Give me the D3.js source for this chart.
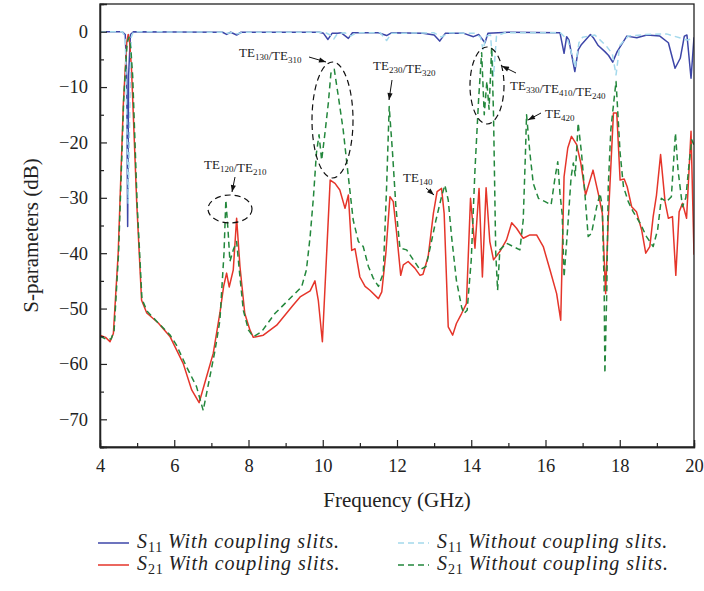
<!DOCTYPE html>
<html>
<head>
<meta charset="utf-8">
<script src="https://cdn.jsdelivr.net/npm/d3@7"></script>
<style>
  html, body { margin: 0; padding: 0; background: #fff; }
  svg text { font-family: "Liberation Serif", "DejaVu Serif", serif; fill: #222; }
</style>
</head>
<body>
<svg id="chart" width="704" height="591"></svg>
<script>
// Frequency sweep data (GHz, dB)
const s11WithFreq = [4.0, 4.6, 4.68, 4.72, 4.745, 4.77, 4.82, 4.9, 7.3, 7.41, 7.52, 7.68, 7.8, 9.9, 10.02, 10.14, 10.25, 10.4, 10.5, 10.69, 10.8, 11.5, 11.72, 11.85, 12.7, 13.0, 13.15, 13.3, 13.8, 14.06, 14.2, 14.37, 14.45, 15.0, 16.39, 16.5, 16.57, 16.63, 16.79, 16.88, 16.97, 17.21, 17.3, 17.42, 17.6, 17.7, 17.81, 17.93, 18.19, 18.46, 18.73, 19.08, 19.31, 19.49, 19.63, 19.74, 19.81, 19.92, 20.0];
const s11WithDb = [0, 0, -0.5, -8, -35.2, -8, -0.5, 0, -0.1, -0.5, -0.1, -0.6, -0.1, -0.1, -0.3, -1.4, -0.3, -0.3, -0.2, -1.2, -0.2, -0.2, -0.7, -0.2, -0.3, -0.6, -1.7, -0.3, -0.3, -0.9, -0.5, -2.0, -0.3, -0.1, -0.2, -3.9, -0.9, -1.5, -7.2, -3.3, -2.3, -0.5, -1.2, -2.5, -3.6, -4.3, -5.5, -3.6, -0.8, -1.1, -0.6, -0.8, -2.0, -6.6, -4.8, -0.8, -0.6, -8.4, -1.0];

const s21WithFreq = [4.0, 4.15, 4.27, 4.36, 4.49, 4.63, 4.72, 4.76, 4.8, 4.85, 4.99, 5.12, 5.26, 5.57, 5.89, 6.24, 6.47, 6.67, 6.87, 7.05, 7.23, 7.33, 7.41, 7.48, 7.59, 7.68, 7.77, 7.9, 8.04, 8.13, 8.4, 8.76, 9.2, 9.39, 9.66, 9.79, 9.88, 9.99, 10.2, 10.33, 10.46, 10.6, 10.69, 10.78, 10.87, 11.0, 11.14, 11.27, 11.5, 11.59, 11.7, 11.81, 11.9, 11.99, 12.1, 12.17, 12.3, 12.48, 12.62, 12.7, 12.84, 12.98, 13.08, 13.2, 13.27, 13.38, 13.5, 13.6, 13.74, 13.87, 13.98, 14.1, 14.21, 14.3, 14.4, 14.5, 14.6, 14.77, 14.95, 15.09, 15.22, 15.4, 15.58, 15.76, 15.94, 16.12, 16.3, 16.41, 16.5, 16.6, 16.7, 16.84, 16.95, 17.08, 17.28, 17.44, 17.53, 17.62, 17.69, 17.83, 17.92, 18.01, 18.12, 18.2, 18.32, 18.45, 18.59, 18.7, 18.81, 18.9, 18.99, 19.1, 19.22, 19.31, 19.42, 19.51, 19.6, 19.69, 19.8, 19.92, 20.0];
const s21WithDb = [-54.8, -55.2, -56, -54.5, -40, -12.9, -2, -0.5, -2, -6.9, -31, -48.5, -50.8, -52.6, -55.1, -59.9, -64.7, -67, -62.3, -58.1, -50.8, -46, -43.6, -46.1, -43, -33.7, -42.4, -50.9, -53.9, -55.2, -54.8, -53, -49.4, -47.9, -46.8, -45, -48.5, -56, -26.8, -27.4, -28.6, -31.9, -29.5, -39.5, -39.2, -44.3, -46, -46.7, -48.2, -47, -40, -29.8, -30.7, -36.4, -44, -42.1, -41.5, -42.7, -44, -43.8, -40.6, -32.8, -28.9, -28.3, -32.8, -53.3, -54.8, -52.7, -50.9, -49.1, -30.1, -39.1, -28.3, -44.3, -28.2, -37.9, -41.2, -39.7, -37.6, -34.5, -35.5, -37.3, -36.7, -36.7, -38.8, -43, -47.3, -52.1, -26.2, -21, -18.9, -20.4, -23.7, -29.5, -25, -29.8, -32.8, -47.3, -34, -14.7, -14.7, -26.8, -26.6, -28, -31.6, -32.5, -35.8, -40, -38.8, -33.4, -29.5, -22.2, -30.7, -33.7, -33.4, -44, -32.5, -31, -33.7, -18, -40.3];

const s11WithoutFreq = [4.0, 4.6, 4.68, 4.72, 4.76, 4.8, 4.84, 4.9, 7.3, 7.45, 7.58, 7.7, 7.85, 10.05, 10.2, 10.3, 10.4, 10.6, 10.75, 10.9, 11.55, 11.72, 11.85, 13.0, 13.2, 13.4, 14.1, 14.25, 14.32, 14.4, 14.52, 14.6, 14.68, 14.9, 16.4, 16.6, 16.75, 16.8, 16.9, 17.0, 17.33, 17.64, 17.8, 17.9, 18.0, 18.23, 18.7, 19.26, 19.81, 20.0];
const s11WithoutDb = [0, 0, -1, -15, -31, -15, -1, 0, -0.1, -0.3, -0.1, -0.4, -0.1, -0.1, -0.6, -1.3, -0.3, -0.2, -0.8, -0.2, -0.2, -1.6, -0.3, -0.2, -1.0, -0.2, -0.3, -1.0, -3.3, -0.8, -0.6, -8, -0.8, -0.2, -0.2, -1.5, -5, -6.5, -2, -1, -0.6, -2.6, -4, -7.8, -2.5, -0.8, -0.5, -0.4, -1.5, -1.2];

const s21WithoutFreq = [4.0, 4.15, 4.3, 4.38, 4.5, 4.64, 4.73, 4.78, 4.83, 4.88, 5.0, 5.13, 5.27, 5.57, 5.89, 6.06, 6.33, 6.6, 6.78, 6.96, 7.1, 7.23, 7.34, 7.39, 7.45, 7.5, 7.59, 7.68, 7.77, 7.86, 8.0, 8.13, 8.35, 8.71, 9.07, 9.43, 9.56, 9.66, 9.75, 9.83, 9.9, 9.97, 10.06, 10.15, 10.22, 10.31, 10.42, 10.55, 10.64, 10.78, 10.82, 10.96, 11.09, 11.23, 11.36, 11.5, 11.63, 11.72, 11.79, 11.88, 11.97, 12.08, 12.26, 12.44, 12.62, 12.78, 12.9, 13.05, 13.2, 13.29, 13.38, 13.47, 13.6, 13.74, 13.8, 13.89, 14.0, 14.1, 14.2, 14.28, 14.35, 14.42, 14.48, 14.55, 14.6, 14.66, 14.71, 14.77, 14.95, 15.13, 15.31, 15.4, 15.46, 15.49, 15.58, 15.67, 15.81, 15.99, 16.15, 16.26, 16.33, 16.39, 16.45, 16.5, 16.6, 16.69, 16.75, 16.8, 16.88, 16.97, 17.06, 17.15, 17.24, 17.38, 17.47, 17.53, 17.58, 17.6, 17.65, 17.69, 17.76, 17.85, 17.9, 18.01, 18.1, 18.23, 18.36, 18.55, 18.72, 18.9, 19.02, 19.12, 19.26, 19.39, 19.5, 19.57, 19.69, 19.78, 19.87, 19.94, 20.0];
const s21WithoutDb = [-55, -55.5, -55.5, -54, -40, -12, -2, -1, -3, -8, -31, -48.3, -50.5, -52.6, -54.8, -56.6, -60.5, -64.1, -68.4, -62.3, -57.5, -52.1, -40, -30.4, -36, -41.5, -39.4, -37.9, -44.3, -50.3, -53.9, -55.1, -54.2, -50.9, -48.5, -46.1, -43, -37, -29.8, -21.9, -18.6, -23.2, -18.3, -12.9, -7.5, -6.8, -11.7, -17.7, -23.2, -31.6, -34, -37.9, -38.8, -42.4, -44.5, -46, -43.6, -28, -13.5, -21.9, -31.6, -39.1, -39.4, -41.2, -43, -42.4, -38.8, -34, -29.8, -27.7, -30.4, -37, -44.9, -49.7, -50.9, -50.3, -41.2, -25, -12, -3.8, -15, -9, -14, -2.8, -15, -40, -46.7, -39.4, -38.2, -38.8, -39.4, -34, -21.9, -15, -21.9, -27.4, -30.1, -30.7, -31.3, -26.2, -23.5, -29.2, -33, -44.3, -35.2, -26.2, -23.7, -26, -16.5, -21.9, -29.2, -37, -36.4, -31.6, -29.2, -31.6, -46, -61.7, -47, -28, -17.7, -12, -9, -21.9, -28, -30.7, -32.5, -34.6, -37, -38.8, -35.8, -30.1, -30.7, -29.8, -18.3, -25, -31.6, -30, -23.7, -19.5, -20.5];

const xTicks = [4, 6, 8, 10, 12, 14, 16, 18, 20];
const yTicks = [-70, -60, -50, -40, -30, -20, -10, 0];

const SERIF = "'Liberation Serif', 'DejaVu Serif', serif";
const svg = d3.select("#chart");
const plot = { left: 100, right: 694, top: 4, bottom: 447 };

const x = d3.scaleLinear().domain([4, 20]).range([plot.left, plot.right]);
const y = d3.scaleLinear().domain([-75, 5]).range([plot.bottom, plot.top]);

svg.append("defs").append("clipPath").attr("id", "plotClip")
  .append("rect")
  .attr("x", plot.left).attr("y", plot.top)
  .attr("width", plot.right - plot.left).attr("height", plot.bottom - plot.top);

const zip = (fs, vs) => fs.map((f, i) => [f, vs[i]]);
const line = d3.line().x(d => x(d[0])).y(d => y(d[1]));

const series = [
  { data: zip(s11WithFreq, s11WithDb), color: "#3d46a8", dash: null },
  { data: zip(s21WithFreq, s21WithDb), color: "#e5352a", dash: null },
  { data: zip(s11WithoutFreq, s11WithoutDb), color: "#a4d9ec", dash: "6,4" },
  { data: zip(s21WithoutFreq, s21WithoutDb), color: "#23873c", dash: "6,4" }
];

const lines = svg.append("g").attr("clip-path", "url(#plotClip)");
series.forEach(s => {
  lines.append("path")
    .datum(s.data)
    .attr("d", line)
    .attr("fill", "none")
    .attr("stroke", s.color)
    .attr("stroke-width", 1.5)
    .attr("stroke-linejoin", "round")
    .attr("stroke-dasharray", s.dash);
});

// Frame
svg.append("rect")
  .attr("x", plot.left).attr("y", plot.top)
  .attr("width", plot.right - plot.left).attr("height", plot.bottom - plot.top)
  .attr("fill", "none").attr("stroke", "#222").attr("stroke-width", 1.3);

// Axes with inward ticks
const xAxis = d3.axisBottom(x).tickValues(xTicks).tickSize(-7).tickPadding(12).tickFormat(d3.format("d"));
svg.append("g").attr("transform", `translate(0,${plot.bottom})`).call(xAxis);
const xMinor = d3.axisBottom(x).tickValues(d3.range(5, 20, 2)).tickSize(-4).tickFormat("");
svg.append("g").attr("transform", `translate(0,${plot.bottom})`).call(xMinor);

const fmtY = d => d < 0 ? "\u2212" + Math.abs(d) : String(d);
const yAxis = d3.axisLeft(y).tickValues(yTicks).tickSize(-7).tickPadding(12).tickFormat(fmtY);
svg.append("g").attr("transform", `translate(${plot.left},0)`).call(yAxis);
const yMinor = d3.axisLeft(y).tickValues(d3.range(-75, 5, 10)).tickSize(-4).tickFormat("");
svg.append("g").attr("transform", `translate(${plot.left},0)`).call(yMinor);

svg.selectAll(".domain").attr("stroke", "#222").attr("stroke-width", 1.3);
svg.selectAll(".tick line").attr("stroke", "#222").attr("stroke-width", 1.2);
svg.selectAll(".tick text").attr("font-size", 18.5).attr("fill", "#222")
  .attr("font-family", SERIF).style("font-family", SERIF);

// Axis titles
svg.append("text")
  .attr("x", (plot.left + plot.right) / 2).attr("y", 507)
  .attr("text-anchor", "middle").attr("font-size", 21).attr("font-family", SERIF)
  .text("Frequency (GHz)");
svg.append("text")
  .attr("transform", `translate(38,${(plot.top + plot.bottom) / 2 + 10}) rotate(-90)`)
  .attr("text-anchor", "middle").attr("font-size", 21).attr("font-family", SERIF)
  .text("S-parameters (dB)");

// Mode annotations
function modeLabel(xp, yp, parts) {
  const t = svg.append("text").attr("x", xp).attr("y", yp)
    .attr("font-size", 13).attr("font-family", SERIF);
  parts.forEach(p => {
    if (p.sub) {
      t.append("tspan").attr("font-size", 9).attr("dy", 3).text(p.sub);
      t.append("tspan").attr("dy", -3).text("");
    } else {
      t.append("tspan").text(p.t);
    }
  });
}
function arrow(x1, y1, x2, y2) {
  svg.append("line").attr("x1", x1).attr("y1", y1).attr("x2", x2).attr("y2", y2)
    .attr("stroke", "#111").attr("stroke-width", 1);
  const a = Math.atan2(y2 - y1, x2 - x1), L = 7, W = 2.6;
  const bx = x2 - L * Math.cos(a), by = y2 - L * Math.sin(a);
  svg.append("path")
    .attr("d", `M${x2},${y2}L${bx + W * Math.sin(a)},${by - W * Math.cos(a)}L${bx - W * Math.sin(a)},${by + W * Math.cos(a)}Z`)
    .attr("fill", "#111");
}
function ring(cx, cy, rx, ry) {
  svg.append("ellipse").attr("cx", cx).attr("cy", cy).attr("rx", rx).attr("ry", ry)
    .attr("fill", "none").attr("stroke", "#111").attr("stroke-width", 1.2)
    .attr("stroke-dasharray", "6,4");
}

modeLabel(204, 169, [{ t: "TE" }, { sub: "120" }, { t: "/TE" }, { sub: "210" }]);
arrow(235, 177, 232, 192);
ring(230, 209, 22, 14);

modeLabel(239, 57, [{ t: "TE" }, { sub: "130" }, { t: "/TE" }, { sub: "310" }]);
arrow(309, 57, 326, 62);
ring(332.5, 120, 20.5, 58);

modeLabel(373, 70, [{ t: "TE" }, { sub: "230" }, { t: "/TE" }, { sub: "320" }]);
arrow(392, 80, 389, 100);

modeLabel(403, 182, [{ t: "TE" }, { sub: "140" }]);
arrow(426, 188, 434, 195);

ring(487, 85.5, 17, 38.5);
modeLabel(510, 90, [{ t: "TE" }, { sub: "330" }, { t: "/TE" }, { sub: "410" }, { t: "/TE" }, { sub: "240" }]);
arrow(516, 73, 502, 66);

modeLabel(545, 118, [{ t: "TE" }, { sub: "420" }]);
arrow(541, 113, 528, 120);

// Legend
const legendItems = [
  { col: 0, row: 0, color: "#3d46a8", dash: null, sub: "11", label: "With coupling slits." },
  { col: 0, row: 1, color: "#e5352a", dash: null, sub: "21", label: "With coupling slits." },
  { col: 1, row: 0, color: "#a4d9ec", dash: "6,4", sub: "11", label: "Without coupling slits." },
  { col: 1, row: 1, color: "#23873c", dash: "6,4", sub: "21", label: "Without coupling slits." }
];
const legend = svg.append("g");
legendItems.forEach(it => {
  const lx = it.col === 0 ? 98 : 398;
  const ly = it.row === 0 ? 543 : 565;
  legend.append("line").attr("x1", lx).attr("x2", lx + 31).attr("y1", ly).attr("y2", ly)
    .attr("stroke", it.color).attr("stroke-width", 1.5).attr("stroke-dasharray", it.dash);
  const t = legend.append("text").attr("x", lx + 39).attr("y", ly + 5)
    .attr("font-size", 20).attr("font-family", SERIF).attr("letter-spacing", 0.9);
  t.append("tspan").attr("font-style", "italic").text("S");
  t.append("tspan").attr("font-size", 14).attr("dy", 4).text(it.sub);
  t.append("tspan").attr("dy", -4).attr("font-style", "italic").text("\u2009" + it.label);
});
</script>
</body>
</html>
